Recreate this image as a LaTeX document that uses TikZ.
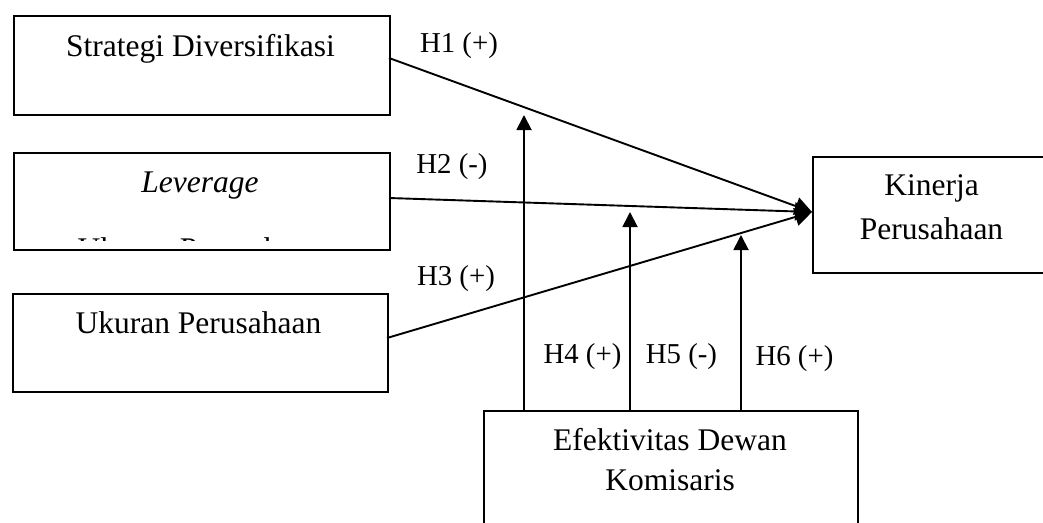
\documentclass[tikz,border=0pt]{standalone}
\usepackage{fontspec}
\setmainfont{Liberation Serif}
\usetikzlibrary{arrows.meta}

\tikzset{
  varbox/.style={draw, line width=1.9pt, inner sep=0pt, anchor=north west},
  boxtext/.style={anchor=base, inner sep=0pt, font=\fontsize{31.5}{36}\selectfont},
  hyplabel/.style={anchor=base, inner sep=0pt, font=\fontsize{28.8}{33}\selectfont},
  path/.style={line width=1.9pt, -{Triangle[length=17pt,width=18pt]}},
  moderator/.style={line width=1.9pt, -{Triangle[length=15pt,width=15pt]}},
}

\begin{document}
\begin{tikzpicture}[x=1pt,y=-1pt]
  \useasboundingbox (0,0) rectangle (1043,522);
  \clip (0,0) rectangle (1043,522);

  % variable boxes
  \node[varbox, minimum width=376pt, minimum height=99pt] (sd) at (13,15) {};
  \node[varbox, minimum width=376pt, minimum height=97pt] (lev) at (13,152) {};
  \node[varbox, minimum width=375pt, minimum height=98pt] (uk) at (12,293) {};
  \node[varbox, minimum width=240pt, minimum height=116pt] (kin) at (812,156) {};
  \node[varbox, minimum width=374pt, minimum height=130pt] (ef) at (483,410) {};

  % box texts
  \node[boxtext] (sdt) at (200.5,56) {Strategi Diversifikasi};
  \node[boxtext] (levt) at (200,192) {\itshape Leverage};
  \node[boxtext] (ukt) at (198.5,333) {Ukuran Perusahaan};
  \node[boxtext] (kint1) at (931.5,195) {Kinerja};
  \node[boxtext] (kint2) at (931.5,239) {Perusahaan};
  \node[boxtext] (eft1) at (670,450) {Efektivitas Dewan};
  \node[boxtext] (eft2) at (670,490) {Komisaris};

  % second line of the leverage box, cut off by the box
  \begin{scope}
    \clip (14,150) rectangle (388,240.5);
    \node[boxtext] (levt2) at (200.5,259.5) {Ukuran Perusahaan};
  \end{scope}

  % direct paths
  \coordinate (tgt) at (812,212);
  \coordinate (s1) at (389,58);
  \coordinate (s2) at (389,198);
  \coordinate (s3) at (387,338);
  \draw[path] (s1) -- (tgt);
  \draw[path] (s2) -- (tgt);
  \draw[path] (s3) -- (tgt);

  % moderating paths
  \coordinate (m1) at (524,410);
  \coordinate (m2) at (630,410);
  \coordinate (m3) at (741,410);
  \coordinate (t1) at (524,115);
  \coordinate (t2) at (630,212);
  \coordinate (t3) at (741,235);
  \draw[moderator] (m1) -- (t1);
  \draw[moderator] (m2) -- (t2);
  \draw[moderator] (m3) -- (t3);

  % hypothesis labels
  \node[hyplabel] (h1) at (459,52) {H1 (+)};
  \node[hyplabel] (h2) at (452,173) {H2 (-)};
  \node[hyplabel] (h3) at (456,285) {H3 (+)};
  \node[hyplabel] (h4) at (582.5,363) {H4 (+)};
  \node[hyplabel] (h5) at (681.5,363) {H5 (-)};
  \node[hyplabel] (h6) at (794.5,365) {H6 (+)};
\end{tikzpicture}
\end{document}
